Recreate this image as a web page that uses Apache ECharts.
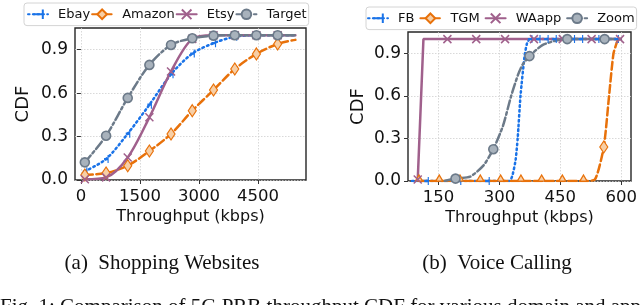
<!DOCTYPE html>
<html><head><meta charset="utf-8">
<script src="https://cdn.jsdelivr.net/npm/echarts@6/dist/echarts.min.js"></script>
<style>html,body{margin:0;padding:0;background:#fff}#c{width:640px;height:305px}</style>
</head><body><div id="c"></div>
<script>
// ---------- (a) Shopping Websites ----------
const shopXTicks = [0, 1500, 3000, 4500];
const ebayX   = [100, 640, 1190, 1740, 2290, 2830, 3370, 3910, 4460, 5000, 5450];
const ebayY   = [0.06, 0.145, 0.32, 0.52, 0.73, 0.873, 0.945, 0.99, 1.0, 1.0, 1.0];
const ebayM   = [1,1,1,1,1,1,1,1,1,1,0];
const amazonX = [100, 640, 1190, 1740, 2290, 2830, 3370, 3910, 4460, 5000, 5450];
const amazonY = [0.035, 0.048, 0.099, 0.2, 0.318, 0.479, 0.622, 0.767, 0.871, 0.94, 0.968];
const amazonM = [1,1,1,1,1,1,1,1,1,1,0];
const etsyX   = [100, 640, 1190, 1740, 2290, 2830, 3370, 3910, 4460, 5000, 5450];
const etsyY   = [0.005, 0.018, 0.156, 0.433, 0.75, 0.975, 1.0, 1.0, 1.0, 1.0, 1.0];
const etsyM   = [1,1,1,1,1,1,1,1,1,1,0];
const targetX = [100, 640, 1190, 1740, 2290, 2830, 3370, 3910, 4460, 5000, 5450];
const targetY = [0.122, 0.306, 0.567, 0.795, 0.933, 0.979, 0.997, 1.0, 1.0, 1.0, 1.0];
const targetM = [1,1,1,1,1,1,1,1,1,1,0];

// ---------- (b) Voice Calling ----------
const voiceXTicks = [150, 300, 450, 600];
const fbX   = [85, 120, 200, 270, 325, 333, 340, 345, 352, 362, 368, 375, 395, 415, 435, 480, 500, 540, 588];
const fbY   = [0, 0, 0, 0, 0, 0.05, 0.15, 0.3, 0.6, 0.88, 0.97, 1, 1, 1, 1, 1, 1, 1, 1];
const fbM   = [0,1,1,1,0,0,0,0,0,0,0,1,1,1,1,1,1,1,1];
const tgmX  = [102, 152, 203, 253, 303, 353, 404, 455, 507, 535, 557, 570, 581, 592];
const tgmY  = [0, 0, 0, 0, 0, 0, 0, 0, 0, 0.01, 0.24, 0.6, 0.9, 1.0];
const tgmM  = [2,2,2,2,2,2,2,2,2,0,1,0,0,0];
const waX   = [99, 113, 172, 243, 314, 385, 456, 527, 597];
const waY   = [0.01, 1.0, 1, 1, 1, 1, 1, 1, 1];
const waM   = [1,0,1,1,1,1,1,1,1];
const zoomX = [165, 192, 228, 261, 285, 309, 329, 346, 357, 374, 406, 440, 467, 559, 600];
const zoomY = [0, 0.017, 0.03, 0.11, 0.224, 0.39, 0.6, 0.75, 0.82, 0.88, 0.958, 0.99, 1.0, 1.0, 1.0];
const zoomM = [0,1,0,0,1,0,0,0,0,1,0,0,1,1,0];

const yTicks = [0, 0.3, 0.6, 0.9];

const C_BLUE = '#1a73e8', C_ORANGE = '#e8710a', C_PURPLE = '#a0608c', C_GRAY = '#6c7a89';
const SANS = 'DejaVu Sans';

const styles = {
  blue:   { color: C_BLUE, lineType: [1.6, 3.2], symbol: 'path://M4,0L4,10M0,5L4,5', symbolSize: [4, 8],
            itemStyle: { color: 'none', borderColor: C_BLUE, borderWidth: 1.6 } },
  orange: { color: C_ORANGE, lineType: [8, 3.5], symbol: 'diamond', symbolSize: [8, 12],
            itemStyle: { color: '#f7cfa6', borderColor: C_ORANGE, borderWidth: 1.2 } },
  purple: { color: C_PURPLE, lineType: 'solid', symbol: 'path://M0,0L10,10M10,0L0,10', symbolSize: 8,
            itemStyle: { color: 'none', borderColor: C_PURPLE, borderWidth: 1.5 } },
  gray:   { color: C_GRAY, lineType: [9, 3, 2.5, 3], symbol: 'circle', symbolSize: 9,
            itemStyle: { color: '#a8b2bc', borderColor: C_GRAY, borderWidth: 1.6 } }
};

function mk(name, xs, ys, marks, idx, st, smooth) {
  const data = xs.map((x, i) => {
    const d = { value: [x, ys[i]] };
    if (marks[i] === 0) d.symbol = 'none';
    if (marks[i] === 2) { d.symbol = 'triangle'; d.symbolSize = [7, 6]; d.symbolOffset = [0, -3]; }
    return d;
  });
  return {
    name, type: 'line', xAxisIndex: idx, yAxisIndex: idx, data,
    smooth: smooth, symbol: st.symbol, symbolSize: st.symbolSize, showAllSymbol: true,
    color: st.color,
    lineStyle: { color: st.color, width: 2.5, type: st.lineType, cap: 'round' },
    itemStyle: st.itemStyle, emphasis: { disabled: true }, animation: false, clip: true
  };
}

function xAxis(idx, min, max, ticks) {
  return {
    type: 'value', gridIndex: idx, min, max,
    name: 'Throughput (kbps)', nameLocation: 'middle', nameGap: 29,
    nameTextStyle: { fontFamily: SANS, fontSize: 16, color: '#111' },
    axisLine: { show: false },
    axisTick: { show: true, length: 4, inside: false, customValues: ticks, lineStyle: { color: '#333', width: 1 } },
    axisLabel: { customValues: ticks, margin: 8, fontFamily: SANS, fontSize: 16.5, color: '#111',
                 formatter: v => String(v) },
    splitLine: { show: true, customValues: ticks, lineStyle: { color: '#cfcfcf', type: [1.5, 1.5], width: 0.8 } }
  };
}
function yAxis(idx, gap) {
  return {
    type: 'value', gridIndex: idx, min: 0, max: 1.05,
    name: 'CDF', nameLocation: 'middle', nameGap: gap, nameRotate: 90,
    nameTextStyle: { fontFamily: SANS, fontSize: 18, color: '#111' },
    axisLine: { show: false },
    axisTick: { show: true, length: 4, customValues: yTicks, lineStyle: { color: '#333', width: 1 } },
    axisLabel: { customValues: yTicks, margin: 7, fontFamily: SANS, fontSize: 17, color: '#111',
                 formatter: v => v.toFixed(1) },
    splitLine: { show: true, customValues: yTicks, lineStyle: { color: '#cfcfcf', type: [1.5, 1.5], width: 0.8 } }
  };
}
function legend(left, top, names, gap, pad) {
  return {
    left, top, width: 330, data: names, orient: 'horizontal', itemWidth: 20, itemHeight: 12, itemGap: gap,
    padding: pad, backgroundColor: '#fff', borderColor: '#d4d4d4', borderWidth: 1, borderRadius: 3,
    textStyle: { fontFamily: SANS, fontSize: 13, color: '#111', padding: [0, 0, 0, 5], lineHeight: 14 },
    selectedMode: false
  };
}

const chart = echarts.init(document.getElementById('c'), null, { renderer: 'canvas' });
chart.setOption({
  backgroundColor: '#fff',
  animation: false,
  grid: [
    { left: 75, top: 28, width: 231, height: 152, show: true, borderColor: '#262626', borderWidth: 1.4, backgroundColor: 'transparent' },
    { left: 408, top: 32, width: 227, height: 149, show: true, borderColor: '#262626', borderWidth: 1.4, backgroundColor: 'transparent' }
  ],
  xAxis: [xAxis(0, -150, 5720, shopXTicks), xAxis(1, 75, 624, voiceXTicks)],
  yAxis: [yAxis(0, 43), yAxis(1, 41)],
  legend: [legend(24, 3, ['Ebay', 'Amazon', 'Etsy', 'Target'], 1, [4, 2, 4, 3]),
           legend(366, 7, ['FB', 'TGM', 'WAapp', 'Zoom'], 5, [4, 2, 4, 1])],
  series: [
    mk('Ebay', ebayX, ebayY, ebayM, 0, styles.blue, 0.3),
    mk('Amazon', amazonX, amazonY, amazonM, 0, styles.orange, 0.3),
    mk('Etsy', etsyX, etsyY, etsyM, 0, styles.purple, 0.3),
    mk('Target', targetX, targetY, targetM, 0, styles.gray, 0.3),
    mk('FB', fbX, fbY, fbM, 1, styles.blue, 0.2),
    mk('TGM', tgmX, tgmY, tgmM, 1, styles.orange, 0.2),
    mk('WAapp', waX, waY, waM, 1, styles.purple, false),
    mk('Zoom', zoomX, zoomY, zoomM, 1, styles.gray, 0.2)
  ],
  graphic: [
    { type: 'text', x: 162, y: 263, style: { text: '(a)  Shopping Websites', font: '21px "Liberation Serif"', fill: '#111', textAlign: 'center', textVerticalAlign: 'middle' } },
    { type: 'text', x: 497, y: 263, style: { text: '(b)  Voice Calling', font: '21px "Liberation Serif"', fill: '#111', textAlign: 'center', textVerticalAlign: 'middle' } },
    { type: 'text', x: 0, y: 297, style: { text: 'Fig. 1: Comparison of 5G PRB throughput CDF for various domain and applications.', font: '21px "Liberation Serif"', fill: '#111', textAlign: 'left', textVerticalAlign: 'top' } }
  ]
});
</script></body></html>
